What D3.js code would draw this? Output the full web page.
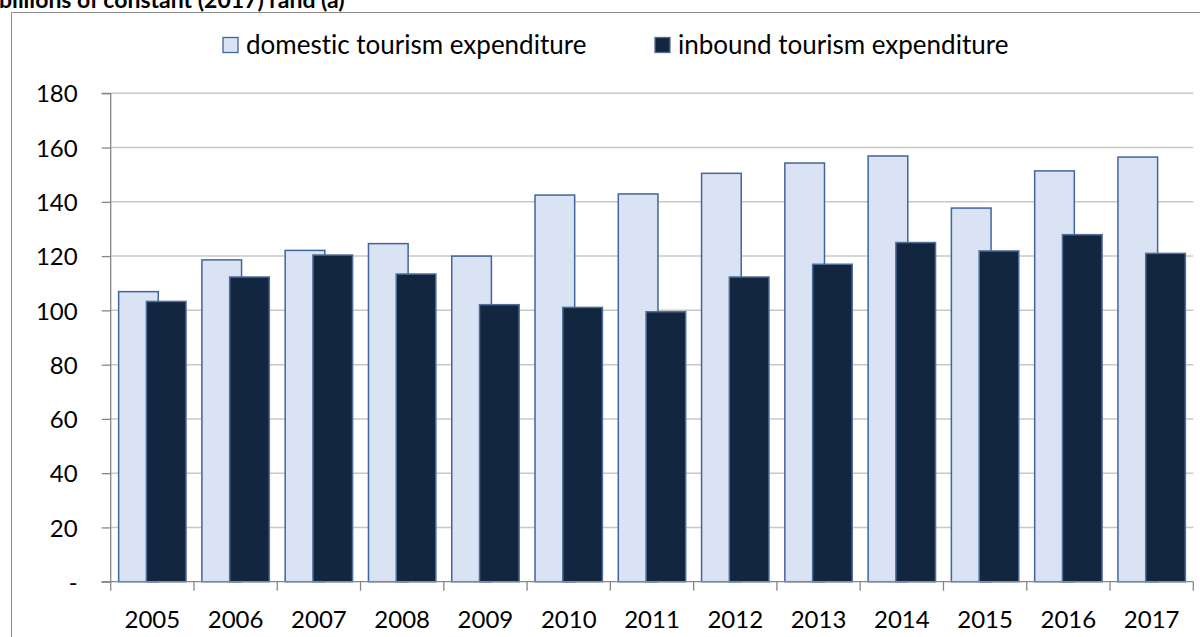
<!DOCTYPE html>
<html>
<head>
<meta charset="utf-8">
<script src="https://cdn.jsdelivr.net/npm/d3@7"></script>
<style>
  html, body { margin: 0; padding: 0; background: #ffffff; overflow: hidden; }
  svg { display: block; }
  text { font-family: Lato, "Open Sans", sans-serif; fill: #000; font-variant-ligatures: none; font-feature-settings: "liga" 0, "clig" 0; }
</style>
</head>
<body>
<svg id="chart" width="1200" height="637"></svg>
<script>
const years = ["2005","2006","2007","2008","2009","2010","2011","2012","2013","2014","2015","2016","2017"];
const domestic = [106.9,118.6,122.1,124.6,120.0,142.5,142.9,150.5,154.3,156.9,137.7,151.4,156.5];
const inbound  = [103.3,112.3,120.4,113.4,102.1,101.1,99.5,112.3,117.0,125.0,121.9,127.9,121.0];
const yTicks = [0,20,40,60,80,100,120,140,160,180];
const yTickLabels = ["-","20","40","60","80","100","120","140","160","180"];
const seriesNames = ["domestic tourism expenditure","inbound tourism expenditure"];
const titleText = "billions of constant (2017) rand (a)";

const svg = d3.select("#chart");
const W = 1200, H = 637;
const plot = {left: 110.7, right: 1193.3, top: 93.3, bottom: 581.7};

const colDomFill = "#DAE3F3", colDomStroke = "#41659C";
const colInbFill = "#13263F", colInbStroke = "#4F6E9C";

// outer border (top and left visible)
svg.append("path")
  .attr("d", `M11.5,${H+5} L11.5,12.5 L${W+5},12.5`)
  .attr("fill", "none").attr("stroke", "#8C8C8C").attr("stroke-width", 1);

// title (partly above the top edge, as in the reference)
svg.append("text")
  .attr("x", -1).attr("y", 7.5)
  .attr("font-size", 23).attr("font-weight", 700)
  .text(titleText);

const x = d3.scaleBand().domain(years).range([plot.left, plot.right]).paddingInner(0).paddingOuter(0);
const y = d3.scaleLinear().domain([0,180]).range([plot.bottom, plot.top]);

const bw = x.bandwidth();
const barW = bw / 2.1;           // gap width 40%, overlap 30%
const off1 = barW * 0.2;
const off2 = off1 + barW * 0.7;

// gridlines
svg.append("g").selectAll("line").data(yTicks.filter(d => d > 0)).join("line")
  .attr("x1", plot.left).attr("x2", plot.right)
  .attr("y1", d => y(d)).attr("y2", d => y(d))
  .attr("stroke", "#C8C8C8").attr("stroke-width", 1.5);

// y axis
const yAxis = d3.axisLeft(y).tickValues(yTicks).tickSize(9).tickPadding(24)
  .tickFormat((d,i) => yTickLabels[i]);
const gy = svg.append("g").attr("transform", `translate(${plot.left},0)`).call(yAxis);
gy.select(".domain").attr("stroke", "#878787").attr("stroke-width", 1.3).attr("d", `M-9,${y(0)}H0V${y(180)}H-9`);
gy.selectAll(".tick line").attr("stroke", "#878787").attr("stroke-width", 1.3);
gy.selectAll(".tick text").attr("font-size", 24).attr("font-family", "Lato").attr("fill", "#000").attr("dy", "0.36em");

// bars
svg.append("g").selectAll("rect").data(years).join("rect")
  .attr("x", (d,i) => x(d) + off1)
  .attr("y", (d,i) => y(domestic[i]))
  .attr("width", barW)
  .attr("height", (d,i) => y(0) - y(domestic[i]))
  .attr("fill", colDomFill).attr("stroke", colDomStroke).attr("stroke-width", 1.5);

svg.append("g").selectAll("rect").data(years).join("rect")
  .attr("x", (d,i) => x(d) + off2)
  .attr("y", (d,i) => y(inbound[i]))
  .attr("width", barW)
  .attr("height", (d,i) => y(0) - y(inbound[i]))
  .attr("fill", colInbFill).attr("stroke", colInbStroke).attr("stroke-width", 1.5);

// x axis
const xTickPos = years.map(d => x(d)).concat([plot.right]);
const gx = svg.append("g");
gx.append("line").attr("x1", plot.left - 9).attr("x2", plot.right)
  .attr("y1", y(0)).attr("y2", y(0)).attr("stroke", "#878787").attr("stroke-width", 1.3);
gx.selectAll("line.tk").data(xTickPos).join("line").attr("class","tk")
  .attr("x1", d => d).attr("x2", d => d)
  .attr("y1", y(0)).attr("y2", y(0) + 9)
  .attr("stroke", "#878787").attr("stroke-width", 1.3);
gx.selectAll("text").data(years).join("text")
  .attr("x", d => x(d) + bw/2).attr("y", 628)
  .attr("text-anchor", "middle").attr("font-size", 24)
  .text(d => d);

// legend
const legend = [
  {name: seriesNames[0], fill: colDomFill, stroke: colDomStroke, bx: 223},
  {name: seriesNames[1], fill: colInbFill, stroke: colInbStroke, bx: 655}
];
const lg = svg.append("g");
legend.forEach(l => {
  lg.append("rect").attr("x", l.bx).attr("y", 37.5).attr("width", 15).attr("height", 15)
    .attr("fill", l.fill).attr("stroke", l.stroke).attr("stroke-width", 1.3);
  lg.append("text").attr("x", l.bx + 23).attr("y", 54).attr("font-size", 26).text(l.name);
});
</script>
</body>
</html>
